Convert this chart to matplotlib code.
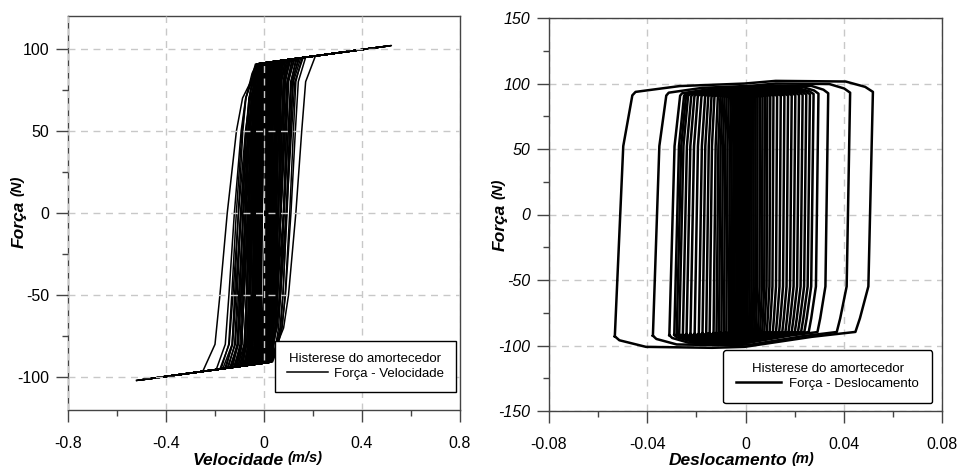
import matplotlib
matplotlib.use("Agg")
import matplotlib.pyplot as plt
from matplotlib.ticker import MultipleLocator

plt.rcParams['font.family'] = ['Liberation Sans', 'DejaVu Sans']

# ---- force x velocity cycles ----
# peak velocity of each cycle (m/s)
vel_peak = [0.52, 0.51, 0.50, 0.49, 0.48, 0.47, 0.46, 0.45, 0.44, 0.43, 0.42,
            0.41, 0.40, 0.39, 0.38, 0.37, 0.36, 0.35, 0.34, 0.33, 0.32, 0.31,
            0.30, 0.29, 0.28, 0.27, 0.26, 0.25, 0.24, 0.23, 0.22, 0.21, 0.20,
            0.19, 0.18, 0.17, 0.16, 0.15, 0.14, 0.13, 0.12, 0.11, 0.10, 0.10,
            0.09, 0.09, 0.08, 0.08, 0.07, 0.07, 0.06, 0.06, 0.06, 0.05, 0.05,
            0.05, 0.04, 0.04, 0.04, 0.03]
# velocity where the rising branch leaves the lower plateau
vel_left = [-0.25, -0.195, -0.18, -0.175, -0.168, -0.16, -0.155, -0.15, -0.146,
            -0.14, -0.136, -0.132, -0.128, -0.124, -0.12, -0.117, -0.114, -0.11,
            -0.107, -0.104, -0.101, -0.098, -0.095, -0.092, -0.089, -0.086,
            -0.083, -0.08, -0.078, -0.076, -0.074, -0.072, -0.07, -0.068, -0.066,
            -0.064, -0.062, -0.06, -0.058, -0.056, -0.054, -0.052, -0.05, -0.048,
            -0.046, -0.044, -0.042, -0.04, -0.038, -0.036, -0.034, -0.032, -0.03,
            -0.028, -0.026, -0.024, -0.022, -0.02, -0.018, -0.016]
# velocity where the rising branch reaches the upper plateau
vel_left_join = [0.0, -0.01, 0.01, -0.02, 0.02, 0.0, -0.03, 0.015, -0.015,
                 0.025, -0.005, 0.005, -0.025, 0.03, -0.01, 0.01, 0.0, -0.02,
                 0.02, -0.035, 0.015, -0.005, 0.025, -0.015, 0.005, -0.03, 0.01,
                 0.03, -0.02, 0.0, 0.02, -0.01, 0.015, -0.025, 0.005, 0.025,
                 -0.005, 0.01, -0.015, 0.0, 0.02, -0.03, 0.015, -0.01, 0.005,
                 0.03, -0.02, 0.0, 0.01, -0.005, 0.02, -0.015, 0.025, 0.0,
                 -0.01, 0.015, -0.02, 0.005, 0.01, -0.005]
# velocity where the falling branch leaves the upper plateau
vel_right = [0.21, 0.17, 0.16, 0.155, 0.15, 0.145, 0.14, 0.135, 0.13, 0.126,
             0.122, 0.118, 0.114, 0.11, 0.107, 0.104, 0.101, 0.098, 0.095, 0.092,
             0.089, 0.086, 0.083, 0.08, 0.078, 0.076, 0.074, 0.072, 0.07, 0.068,
             0.066, 0.064, 0.062, 0.06, 0.058, 0.056, 0.054, 0.052, 0.05, 0.048,
             0.046, 0.044, 0.042, 0.04, 0.038, 0.036, 0.034, 0.032, 0.03, 0.028,
             0.026, 0.024, 0.022, 0.02, 0.018, 0.016, 0.014, 0.012, 0.01, 0.008]
# velocity where the falling branch reaches the lower plateau
vel_right_join = [0.01, 0.02, -0.01, 0.03, 0.0, -0.02, 0.025, 0.005, 0.035,
                  -0.015, 0.015, -0.005, 0.03, -0.025, 0.01, -0.01, 0.02, 0.0,
                  -0.03, 0.025, -0.015, 0.015, -0.02, 0.005, 0.03, -0.01, 0.02,
                  -0.025, 0.0, 0.01, -0.005, 0.015, -0.01, 0.025, -0.02, 0.005,
                  0.02, -0.01, 0.0, 0.03, -0.015, 0.01, -0.025, 0.015, 0.005,
                  -0.005, 0.02, -0.03, 0.01, 0.0, -0.01, 0.025, -0.02, 0.015,
                  0.005, -0.015, 0.02, -0.005, 0.01, 0.0]
# shape of a switching branch: force level and fraction of the start velocity
branch_force = [-92, -80, -50, 0, 50, 70, 85, 91]
branch_frac = [1.0, 0.80, 0.72, 0.60, 0.45, 0.35, 0.15, 0.0]
plateau_force = 91.4
plateau_slope = 20.4

# ---- force x displacement loops ----
disp_left = [-0.0532, -0.0377, -0.031, -0.029, -0.028, -0.027, -0.0255, -0.024,
             -0.0224, -0.0207, -0.019, -0.0175, -0.016, -0.0146, -0.013, -0.0118,
             -0.0108, -0.0098, -0.0088, -0.0078, -0.0068, -0.006, -0.0052,
             -0.0045, -0.0038, -0.0032, -0.0026, -0.0020, -0.0014, -0.0009]
disp_right = [0.0524, 0.043, 0.034, 0.030, 0.028, 0.0265, 0.025, 0.0235, 0.022,
              0.0205, 0.019, 0.0175, 0.016, 0.0145, 0.013, 0.0115, 0.0102, 0.009,
              0.008, 0.007, 0.006, 0.005, 0.0042, 0.0034, 0.0026, 0.0018, 0.001,
              0.0005, 0.0001, -0.0003]
force_peak = [102, 100, 98.5, 97.5, 96.5, 96, 95.5, 95, 94.5, 94, 93.5, 93,
              92.5, 92.5, 92, 92, 91.5, 91.5, 91, 91, 90.5, 90.5, 90.5, 90.5,
              90.5, 90.5, 90.5, 90.5, 90.5, 90.5]
force_yield = 90
# loop outline read from the outermost loop: u = position in stroke,
# g = fraction of yield force, h = fraction of the extra (velocity) force
loop_u = [-1.00, -0.935, -0.865, -0.84, -0.50, 0.00, 0.24, 0.78, 0.93, 0.99,
          0.955, 0.89, 0.855, 0.52, 0.00, -0.25, -0.76, -0.965, -1.00]
loop_g = [-1, 0.58, 1, 1, 1, 1, 1, 1, 1, 1,
          -0.61, -0.88, -1, -1, -1, -1, -1, -1, -1]
loop_h = [-0.25, 0, 0.08, 0.30, 0.67, 0.83, 1.0, 0.96, 0.62, 0.30,
          0, 0, 0.03, -0.28, -0.92, -0.98, -0.92, -0.50, -0.25]

spine_col = '#444444'
grid_col = '#c8c8c8'

fig = plt.figure(figsize=(9.59, 4.68), dpi=100)
ax1 = fig.add_axes([68 / 959, 58 / 468, 392 / 959, 394 / 468])
ax2 = fig.add_axes([549 / 959, 57 / 468, 393 / 959, 393 / 468])


def top_plateau(v):
    return plateau_force + plateau_slope * v


def bottom_plateau(v):
    return -plateau_force + plateau_slope * v


# left panel
for p, a, ca, b, cb in zip(vel_peak, vel_left, vel_left_join,
                           vel_right, vel_right_join):
    v = [-p]
    f = [bottom_plateau(-p)]
    v += [ca + (a - ca) * s for s in branch_frac]
    f += [bottom_plateau(a)] + branch_force[1:-1] + [top_plateau(ca)]
    v += [p]
    f += [top_plateau(p)]
    v += [cb + (b - cb) * s for s in branch_frac]
    f += [top_plateau(b)] + [-x for x in branch_force[1:-1]] + [bottom_plateau(cb)]
    v += [-p]
    f += [bottom_plateau(-p)]
    ax1.plot(v, f, color='black', lw=1.1, zorder=2)

# right panel
for dl, dr, fp in zip(disp_left, disp_right, force_peak):
    mid = (dl + dr) / 2
    half = (dr - dl) / 2
    x = [mid + half * u for u in loop_u]
    y = [g * force_yield + h * (fp - force_yield) for g, h in zip(loop_g, loop_h)]
    ax2.plot(x, y, color='black', lw=1.8, solid_joinstyle='round', zorder=2)

ax1.set_xlim(-0.8, 0.8)
ax1.set_ylim(-120, 120)
ax1.xaxis.set_minor_locator(MultipleLocator(0.2))
ax1.yaxis.set_minor_locator(MultipleLocator(25))
ax1.set_xticks([-0.8, -0.4, 0, 0.4, 0.8])
ax1.set_xticklabels(['-0.8', '-0.4', '0', '0.4', '0.8'])
ax1.set_yticks([-100, -50, 0, 50, 100])
ax1.set_yticklabels(['-100', '-50', '0', '50', '100'])

ax2.set_xlim(-0.08, 0.08)
ax2.set_ylim(-150, 150)
ax2.xaxis.set_minor_locator(MultipleLocator(0.02))
ax2.yaxis.set_minor_locator(MultipleLocator(25))
ax2.set_xticks([-0.08, -0.04, 0, 0.04, 0.08])
ax2.set_xticklabels(['-0.08', '-0.04', '0', '0.04', '0.08'])
ax2.set_yticks([-150, -100, -50, 0, 50, 100, 150])
ax2.set_yticklabels(['-150', '-100', '-50', '0', '50', '100', '150'],
                    fontstyle='italic')

for ax in (ax1, ax2):
    for s in ax.spines.values():
        s.set_color(spine_col)
        s.set_linewidth(1.0)
    ax.tick_params(which='both', direction='out', color=spine_col, width=1,
                   top=False, right=False, labelsize=11.5)
    ax.tick_params(which='major', length=8.5)
    ax.tick_params(which='minor', length=4.5)
    ax.tick_params(axis='x', which='both', pad=10)
    ax.tick_params(axis='y', which='both', pad=5)
    ax.grid(True, which='major', color=grid_col, linestyle=(0, (5, 4)), lw=1)

ax1.set_axisbelow(False)
ax2.set_axisbelow(True)

# axis labels: bold italic name followed by a smaller unit
lab_kw = dict(fontweight='bold', fontstyle='italic')
for ax, xname, xunit, xc, yc in [(ax1, 'Velocidade', '(m/s)', 0.434, 0.472),
                                 (ax2, 'Deslocamento', '(m)', 0.455, 0.468)]:
    xl = ax.set_xlabel(xname, fontsize=12.5, **lab_kw)
    ax.xaxis.set_label_coords(xc, -0.108)
    ax.annotate(xunit, xy=(1, 0), xycoords=xl, xytext=(3, 1.5),
                textcoords='offset points', ha='left', va='bottom',
                fontsize=10.5, **lab_kw)
    yl = ax.set_ylabel('Força', fontsize=12.5, **lab_kw)
    ax.yaxis.set_label_coords(-0.105, yc)
    ax.annotate('(N)', xy=(1, 1), xycoords=yl, xytext=(-1.5, 3),
                textcoords='offset points', ha='right', va='bottom',
                rotation=90, fontsize=10.5, **lab_kw)

leg1 = ax1.legend(['Força - Velocidade'], title='Histerese do amortecedor',
                  loc='lower right', bbox_to_anchor=(0.99, 0.046),
                  borderaxespad=0, fontsize=9.5, title_fontsize=9.5,
                  fancybox=False, handlelength=3.1, handletextpad=0.5,
                  borderpad=0.9, labelspacing=0.2)
leg1.get_frame().set_edgecolor('black')
leg1.get_frame().set_linewidth(1)
leg1.get_frame().set_alpha(1)
leg1.set_zorder(5)

leg2 = ax2.legend(['Força - Deslocamento'], title='Histerese do amortecedor',
                  loc='lower right', bbox_to_anchor=(0.975, 0.02),
                  borderaxespad=0, fontsize=9.5, title_fontsize=9.5,
                  fancybox=True, handlelength=3.4, handletextpad=0.6,
                  borderpad=1.0, labelspacing=0.2)
leg2.get_frame().set_edgecolor('black')
leg2.get_frame().set_linewidth(1)
leg2.get_frame().set_alpha(1)
leg2.set_zorder(5)

fig.savefig('out.png', dpi=100)
